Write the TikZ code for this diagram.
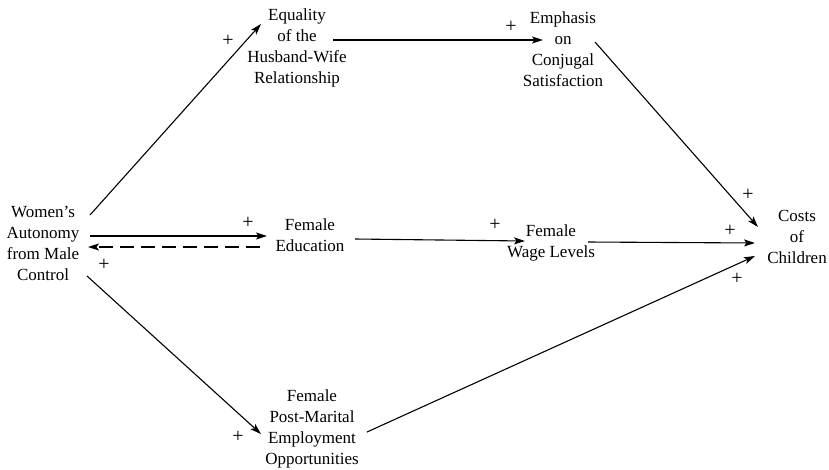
\documentclass[tikz,border=0pt]{standalone}
\usepackage{fontspec}
\setmainfont{Liberation Serif}
\usetikzlibrary{arrows.meta}
\begin{document}
\begin{tikzpicture}[x=1pt,y=-1pt,
  lbl/.style={align=center,inner sep=0pt,font=\fontsize{17}{21}\selectfont},
  pl/.style={inner sep=0pt,font=\fontsize{20}{21}\selectfont},
  conn/.style={line width=1.1pt,-{Stealth[length=11pt,width=7pt,inset=2.5pt]}},
  dconn/.style={conn,dash pattern=on 14pt off 7pt}]
\useasboundingbox (0,0) rectangle (829,469);
\node[lbl] (wa) at (43,243) {Women's\\Autonomy\\from Male\\Control};
\node[lbl] (eq) at (297,48) {Equality\\of the\\Husband-Wife\\Relationship};
\node[lbl] (em) at (563,49) {Emphasis\\on\\Conjugal\\Satisfaction};
\node[lbl] (ed) at (310,235) {Female\\Education};
\node[lbl] (wl) at (551,243) {Female\\Wage Levels};
\node[lbl] (cc) at (797,237) {Costs\\of\\Children};
\node[lbl] (pm) at (312,429) {Female\\Post-Marital\\Employment\\Opportunities};

\draw[conn] ([shift={(47,-28)}]wa.center) -- ([shift={(-36,-24)}]eq.center);
\draw[conn] ([shift={(36,-8)}]eq.center) -- ([shift={(-20,-9)}]em.center);
\draw[conn] ([shift={(32,-7)}]em.center) -- ([shift={(-39,-10)}]cc.center);
\draw[conn] ([shift={(47,-7)}]wa.center) -- ([shift={(-43,1)}]ed.center);
\draw[dconn] ([shift={(-50,12)}]ed.center) -- ([shift={(45,4)}]wa.center);
\draw[conn] ([shift={(45,4)}]ed.center) -- ([shift={(-26,-2)}]wl.center);
\draw[conn] ([shift={(37,-1)}]wl.center) -- ([shift={(-42,6)}]cc.center);
\draw[conn] ([shift={(44,33)}]wa.center) -- ([shift={(-51,5)}]pm.center);
\draw[conn] ([shift={(55,3)}]pm.center) -- ([shift={(-42,19)}]cc.center);

\node[pl] (p1) at (228,41) {+};
\node[pl] (p2) at (511,27) {+};
\node[pl] (p3) at (748,195) {+};
\node[pl] (p4) at (248,223) {+};
\node[pl] (p5) at (104,265) {+};
\node[pl] (p6) at (495,225) {+};
\node[pl] (p7) at (730,231) {+};
\node[pl] (p8) at (737,279) {+};
\node[pl] (p9) at (238,437) {+};
\end{tikzpicture}
\end{document}
